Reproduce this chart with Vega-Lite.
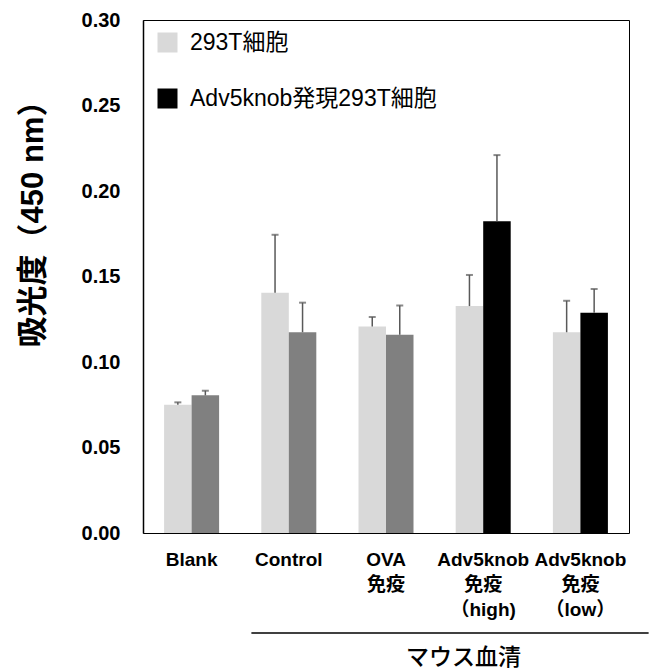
{
  "$schema": "https://vega.github.io/schema/vega-lite/v6.json",
  "width": 486,
  "height": 513,
  "autosize": {"type": "none"},
  "padding": {"left": 143, "top": 20, "right": 21, "bottom": 138},
  "config": {
    "view": {"stroke": "#000000", "strokeWidth": 1},
    "font": "Liberation Sans, Noto Sans CJK JP, sans-serif",
    "axis": {"labelColor": "#000000", "titleColor": "#000000", "grid": false}
  },
  "data": {
    "values": [
      {"group": "Blank", "series": "293T細胞", "value": 0.075, "upper": 0.0764},
      {"group": "Blank", "series": "Adv5knob発現293T細胞", "value": 0.0805, "upper": 0.0832},
      {"group": "Control", "series": "293T細胞", "value": 0.1405, "upper": 0.1744},
      {"group": "Control", "series": "Adv5knob発現293T細胞", "value": 0.1174, "upper": 0.1347},
      {"group": "OVA\n免疫", "series": "293T細胞", "value": 0.1207, "upper": 0.1263},
      {"group": "OVA\n免疫", "series": "Adv5knob発現293T細胞", "value": 0.116, "upper": 0.133},
      {"group": "Adv5knob\n免疫\n（high)", "series": "293T細胞", "value": 0.1327, "upper": 0.1509},
      {"group": "Adv5knob\n免疫\n（high)", "series": "Adv5knob発現293T細胞", "value": 0.1823, "upper": 0.221},
      {"group": "Adv5knob\n免疫\n（low）", "series": "293T細胞", "value": 0.1174, "upper": 0.1358},
      {"group": "Adv5knob\n免疫\n（low）", "series": "Adv5knob発現293T細胞", "value": 0.1288, "upper": 0.1427}
    ]
  },
  "encoding": {
    "x": {
      "field": "group",
      "type": "nominal",
      "sort": null,
      "scale": {"paddingInner": 0.434, "paddingOuter": 0.217},
      "axis": {
        "labelAngle": 0,
        "labelExpr": "split(datum.label, '\\n')",
        "labelFontSize": 19,
        "labelFontWeight": "bold",
        "labelLineHeight": 25,
        "labelPadding": 17,
        "ticks": false,
        "domain": false,
        "title": "マウス血清",
        "titleFontSize": 23,
        "titleFontWeight": 500,
        "titleX": 320,
        "titleY": 124,
        "titleAlign": "center",
        "titleBaseline": "middle"
      }
    },
    "xOffset": {
      "field": "series",
      "type": "nominal",
      "sort": ["293T細胞", "Adv5knob発現293T細胞"],
      "scale": {"paddingInner": 0, "paddingOuter": 0}
    }
  },
  "layer": [
    {
      "mark": {"type": "bar"},
      "encoding": {
        "y": {
          "field": "value",
          "type": "quantitative",
          "scale": {"domain": [0, 0.3], "nice": false},
          "axis": {
            "values": [0, 0.05, 0.1, 0.15, 0.2, 0.25, 0.3],
            "format": ".2f",
            "labelFontSize": 20,
            "labelFontWeight": "bold",
            "labelPadding": 23,
            "ticks": false,
            "domain": true,
            "domainColor": "#000000",
            "domainWidth": 1.5,
            "title": "吸光度（450 nm）",
            "titleFontSize": 31,
            "titleFontWeight": "bold",
            "titleAngle": -90,
            "titleX": -110,
            "titleY": 196,
            "titleAlign": "center",
            "titleBaseline": "middle"
          }
        },
        "color": {
          "field": "series",
          "type": "nominal",
          "scale": {"domain": ["293T細胞", "Adv5knob発現293T細胞"], "range": ["#d9d9d9", "#000000"]},
          "condition": {
            "test": "datum.series === 'Adv5knob発現293T細胞' && indexof(datum.group, 'Adv5knob') < 0",
            "value": "#808080"
          },
          "legend": {
            "title": null,
            "orient": "none",
            "legendX": 13,
            "legendY": 11,
            "symbolType": "square",
            "symbolSize": 400,
            "symbolStrokeWidth": 0,
            "labelFontSize": 23,
            "labelLimit": 0,
            "labelColor": "#000000",
            "labelOffset": 11,
            "rowPadding": 32
          }
        }
      }
    },
    {
      "mark": {"type": "rule", "color": "#595959", "strokeWidth": 1.5},
      "encoding": {
        "y": {"field": "value", "type": "quantitative"},
        "y2": {"field": "upper"}
      }
    },
    {
      "mark": {"type": "tick", "color": "#595959", "thickness": 2, "size": 7, "orient": "horizontal"},
      "encoding": {
        "y": {"field": "upper", "type": "quantitative"}
      }
    },
    {
      "data": {"values": [{"from": "Control", "to": "Adv5knob\n免疫\n（low）"}]},
      "mark": {"type": "rule", "color": "#000000", "strokeWidth": 1.5},
      "encoding": {
        "x": {"field": "from", "type": "nominal", "sort": null, "bandPosition": -0.18},
        "x2": {"field": "to", "bandPosition": 1.74},
        "xOffset": null,
        "y": {"datum": -0.0585}
      }
    }
  ]
}
